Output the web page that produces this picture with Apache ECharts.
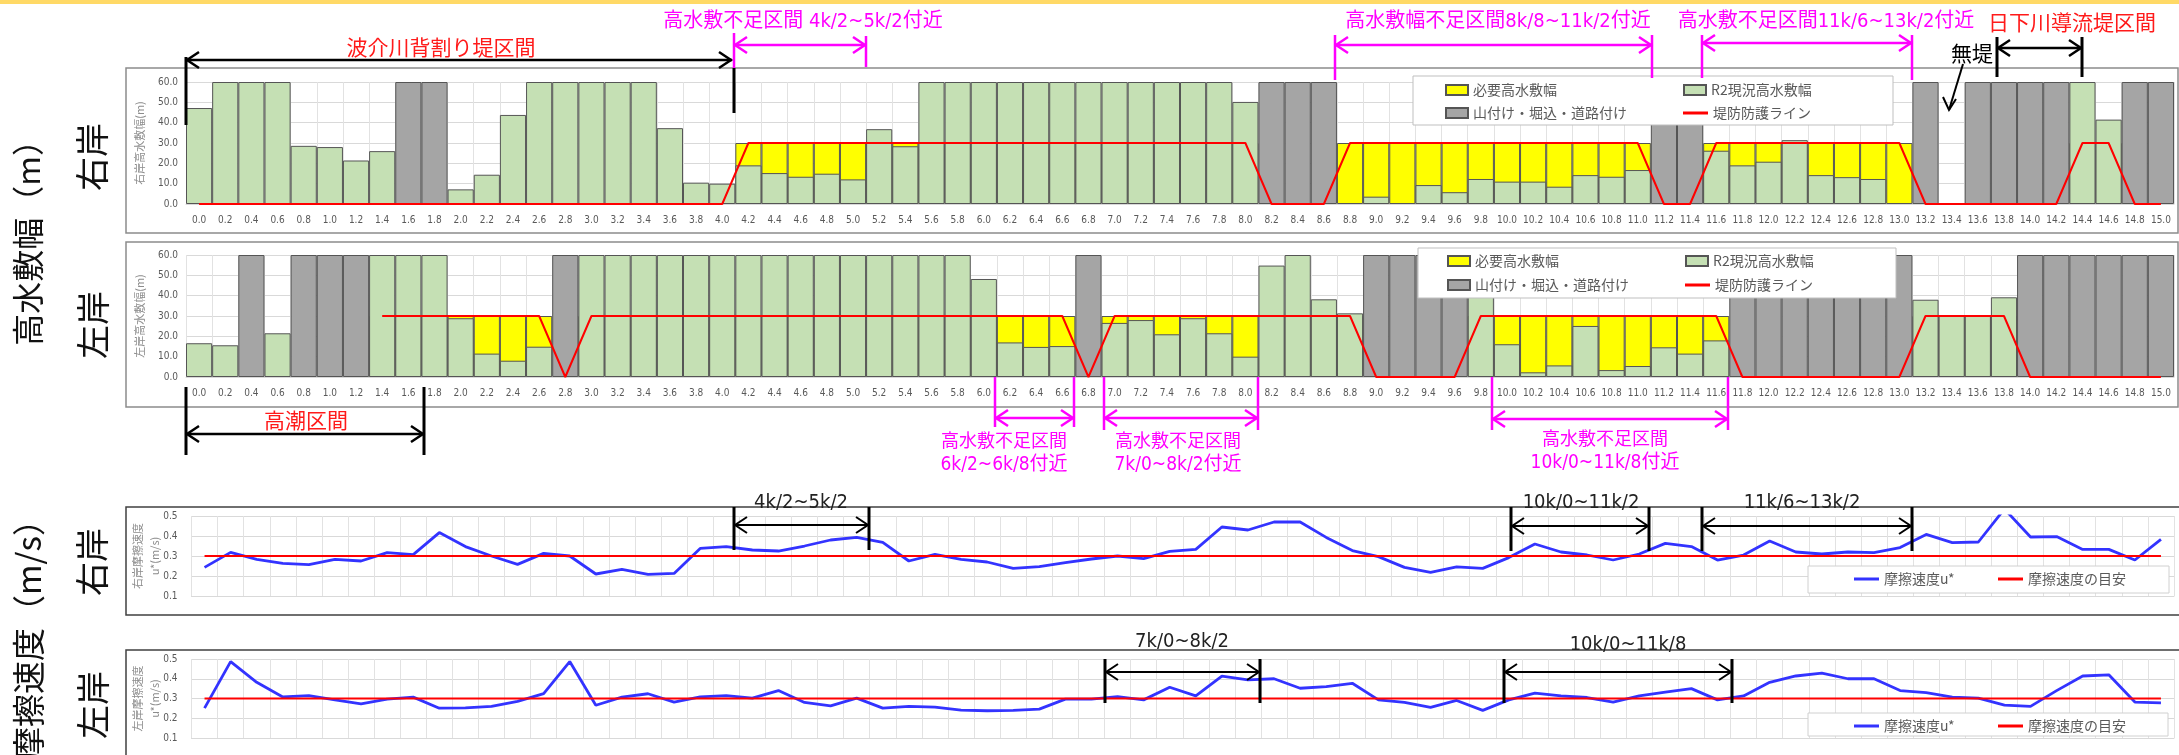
<!DOCTYPE html>
<html>
<head>
<meta charset="utf-8">
<script src="https://cdn.jsdelivr.net/npm/echarts@6/dist/echarts.min.js"></script>
<style>
  html, body { margin: 0; padding: 0; background: #fff; }
  #main { width: 2179px; height: 755px; }
</style>
</head>
<body>
<div id="main"></div>
<script>
// 距離標 (km)
const km = [
  '0.0','0.2','0.4','0.6','0.8','1.0','1.2','1.4','1.6','1.8',
  '2.0','2.2','2.4','2.6','2.8','3.0','3.2','3.4','3.6','3.8',
  '4.0','4.2','4.4','4.6','4.8','5.0','5.2','5.4','5.6','5.8',
  '6.0','6.2','6.4','6.6','6.8','7.0','7.2','7.4','7.6','7.8',
  '8.0','8.2','8.4','8.6','8.8','9.0','9.2','9.4','9.6','9.8',
  '10.0','10.2','10.4','10.6','10.8','11.0','11.2','11.4','11.6','11.8',
  '12.0','12.2','12.4','12.6','12.8','13.0','13.2','13.4','13.6','13.8',
  '14.0','14.2','14.4','14.6','14.8','15.0'
];

// 右岸 高水敷幅 (m)
const rbGreen = [
  47.2,60,60,60,28.6,28.0,21.4,26.0,'-','-',
  7.2,14.4,43.8,60,60,60,60,60,37.3,10.5,
  10.0,19.0,15.2,13.4,14.9,12.1,36.8,28.4,60,60,
  60,60,60,60,60,60,60,60,60,60,
  50.2,'-','-','-','-',3.6,'-',9.3,5.8,12.3,
  11.0,11.0,8.5,14.2,13.4,16.7,'-','-',26.2,19.0,
  20.8,31.4,14.2,13.2,12.3,'-','-','-','-','-',
  '-','-',60,41.5,'-','-'
];
const rbGray = [
  '-','-','-','-','-','-','-','-',60,60,
  '-','-','-','-','-','-','-','-','-','-',
  '-','-','-','-','-','-','-','-','-','-',
  '-','-','-','-','-','-','-','-','-','-',
  '-',60,60,60,'-','-','-','-','-','-',
  '-','-','-','-','-','-',60,60,'-','-',
  '-','-','-','-','-','-',60,'-',60,60,
  60,60,'-','-',60,60
];
const rbNeed = [
  '-','-','-','-','-','-','-','-','-','-',
  '-','-','-','-','-','-','-','-','-','-',
  '-',30,30,30,30,30,30,30,30,30,
  30,30,30,30,30,30,30,30,30,30,
  30,'-','-','-',30,30,30,30,30,30,
  30,30,30,30,30,30,'-','-',30,30,
  30,30,30,30,30,30,'-','-','-','-',
  '-','-',30,30,'-','-'
];
const rbLine = [
  0,0,0,0,0,0,0,0,0,0,
  0,0,0,0,0,0,0,0,0,0,
  0,30,30,30,30,30,30,30,30,30,
  30,30,30,30,30,30,30,30,30,30,
  30,0,0,0,30,30,30,30,30,30,
  30,30,30,30,30,30,0,0,30,30,
  30,30,30,30,30,30,0,0,0,0,
  0,0,30,30,0,0
];

// 左岸 高水敷幅 (m)
const lbGreen = [
  16.6,15.6,'-',21.5,'-','-','-',60,60,60,
  28.9,11.5,8.0,14.9,'-',60,60,60,60,60,
  60,60,60,60,60,60,60,60,60,60,
  48.2,17.0,14.8,15.2,'-',26.6,28.0,21.0,28.9,21.5,
  10.0,54.8,60,38.2,31.3,'-','-','-','-',60,
  16.1,2.3,5.7,25.1,3.4,5.4,14.6,11.5,18.0,'-',
  '-','-','-','-','-','-',38.0,30.0,30.0,39.2,
  '-','-','-','-','-','-'
];
const lbGray = [
  '-','-',60,'-',60,60,60,'-','-','-',
  '-','-','-','-',60,'-','-','-','-','-',
  '-','-','-','-','-','-','-','-','-','-',
  '-','-','-','-',60,'-','-','-','-','-',
  '-','-','-','-','-',60,60,60,60,'-',
  '-','-','-','-','-','-','-','-','-',60,
  60,60,60,60,60,60,'-','-','-','-',
  60,60,60,60,60,60
];
const lbNeed = [
  '-','-','-','-','-','-','-',30,30,30,
  30,30,30,30,'-',30,30,30,30,30,
  30,30,30,30,30,30,30,30,30,30,
  30,30,30,30,'-',30,30,30,30,30,
  30,30,30,30,30,'-','-','-','-',30,
  30,30,30,30,30,30,30,30,30,'-',
  '-','-','-','-','-','-',30,30,30,30,
  '-','-','-','-','-','-'
];
const lbLine = [
  '-','-','-','-','-','-','-',30,30,30,
  30,30,30,30,0,30,30,30,30,30,
  30,30,30,30,30,30,30,30,30,30,
  30,30,30,30,0,30,30,30,30,30,
  30,30,30,30,30,0,0,0,0,30,
  30,30,30,30,30,30,30,30,30,0,
  0,0,0,0,0,0,30,30,30,30,
  0,0,0,0,0,0
];

// 摩擦速度 u* (m/s)
const rbU = [
  0.243,0.318,0.283,0.263,0.257,0.283,0.275,0.317,0.307,0.417,
  0.347,0.300,0.258,0.313,0.300,0.210,0.233,0.208,0.213,0.338,
  0.347,0.330,0.325,0.350,0.380,0.393,0.368,0.275,0.308,0.283,
  0.270,0.238,0.247,0.267,0.285,0.300,0.287,0.323,0.333,0.445,
  0.430,0.470,0.470,0.393,0.327,0.297,0.243,0.218,0.246,0.238,
  0.292,0.360,0.320,0.305,0.280,0.310,0.363,0.347,0.280,0.305,
  0.375,0.320,0.310,0.320,0.317,0.342,0.408,0.367,0.370,0.535,
  0.395,0.397,0.333,0.333,0.280,0.383
];
const lbU = [
  0.251,0.487,0.382,0.308,0.315,0.293,0.273,0.297,0.307,0.251,
  0.253,0.260,0.285,0.325,0.487,0.266,0.307,0.324,0.282,0.308,
  0.315,0.302,0.340,0.280,0.263,0.302,0.251,0.260,0.256,0.241,
  0.238,0.240,0.246,0.297,0.297,0.310,0.293,0.357,0.313,0.413,
  0.394,0.400,0.352,0.360,0.377,0.293,0.280,0.255,0.290,0.240,
  0.293,0.327,0.313,0.305,0.282,0.313,0.332,0.350,0.293,0.313,
  0.382,0.414,0.428,0.400,0.400,0.340,0.330,0.307,0.302,0.266,
  0.260,0.340,0.414,0.420,0.282,0.278
];
const uGuide = 0.3;   // 摩擦速度の目安

const widthTicks = [0, 60, 10];      // min, max, interval
const speedTicks = [0.1, 0.5, 0.1];

const JP = '"Noto Sans CJK JP", "Noto Sans CJK SC", sans-serif';
const NARROW = '"Liberation Sans Narrow", "DejaVu Sans Condensed", "Liberation Sans", sans-serif';
// narrow latin + CJK fallback, for the mixed annotation labels
const MIX = '"Liberation Sans Narrow", "DejaVu Sans Condensed", "Noto Sans CJK JP", sans-serif';
const MAG = '#FF00FF';
const RED = '#FF1A1A';

const chart = echarts.init(document.getElementById('main'));

// ---- axes ----
function catAxis(gi, showLabel) {
  return {
    type: 'category', gridIndex: gi, data: km, boundaryGap: true,
    axisLine: { show: true, lineStyle: { color: '#d9d9d9', width: 1 } },
    axisTick: { show: false },
    axisLabel: { show: showLabel, interval: 0, fontSize: 10, color: '#595959', fontFamily: NARROW, margin: 11 },
    splitLine: { show: true, interval: 0, lineStyle: { color: '#e2e2e2', width: 1 } }
  };
}
function valAxis(gi, t, name, gap, margin) {
  return {
    type: 'value', gridIndex: gi, min: t[0], max: t[1], interval: t[2],
    axisLine: { show: false }, axisTick: { show: false },
    axisLabel: { fontSize: 10, color: '#595959', fontFamily: NARROW, margin: margin,
                 formatter: v => v.toFixed(1) },
    splitLine: { lineStyle: { color: '#d9d9d9', width: 1 } },
    name: name, nameLocation: 'middle', nameRotate: 90, nameGap: gap, nameMoveOverlap: false,
    nameTextStyle: { fontSize: 11, color: '#8c8c8c', fontFamily: JP, lineHeight: 17 }
  };
}

// ---- series ----
const barBorder = { borderColor: '#555', borderWidth: 1 };
function bankBars(ax, need, green, gray, line) {
  return [
    { name: '必要高水敷幅', type: 'bar', xAxisIndex: ax, yAxisIndex: ax, data: need,
      barCategoryGap: '0%', barGap: '-100%', color: '#FFFF00',
      itemStyle: Object.assign({ color: '#FFFF00' }, barBorder) },
    { name: 'R2現況高水敷幅', type: 'bar', xAxisIndex: ax, yAxisIndex: ax, data: green,
      barCategoryGap: '0%', barGap: '-100%', color: '#C5E0B4',
      itemStyle: Object.assign({ color: '#C5E0B4' }, barBorder) },
    { name: '山付け・堀込・道路付け', type: 'bar', xAxisIndex: ax, yAxisIndex: ax, data: gray,
      barCategoryGap: '0%', barGap: '-100%', color: '#A5A5A5',
      itemStyle: Object.assign({ color: '#A5A5A5' }, barBorder) },
    { name: '堤防防護ライン', type: 'line', xAxisIndex: ax, yAxisIndex: ax, data: line,
      symbol: 'none', color: '#FF0000', lineStyle: { color: '#FF0000', width: 2 }, z: 5 }
  ];
}
function speedLines(ax, u) {
  return [
    { name: '摩擦速度u*', type: 'line', xAxisIndex: ax, yAxisIndex: ax, data: u,
      symbol: 'none', color: '#3333FF', lineStyle: { color: '#3333FF', width: 2.8 }, clip: true },
    { name: '摩擦速度の目安', type: 'line', xAxisIndex: ax, yAxisIndex: ax,
      data: km.map(() => uGuide), symbol: 'none', color: '#FF0000',
      lineStyle: { color: '#FF0000', width: 2 } }
  ];
}

// ---- legends (one per item so they sit where the reference has them) ----
function legendItem(name, left, cy, lineIcon) {
  return {
    data: [name], left: left, top: cy - 7, padding: 0, selectedMode: false, z: 12,
    icon: 'rect', itemWidth: lineIcon ? 25 : 22, itemHeight: lineIcon ? 3 : 10, itemGap: 0,
    textStyle: { fontSize: 14, color: '#595959', fontFamily: JP }
  };
}
const legends = [
  legendItem('必要高水敷幅', 1445, 90), legendItem('R2現況高水敷幅', 1683, 90),
  legendItem('山付け・堀込・道路付け', 1445, 113), legendItem('堤防防護ライン', 1683, 113, true),
  legendItem('必要高水敷幅', 1447, 261), legendItem('R2現況高水敷幅', 1685, 261),
  legendItem('山付け・堀込・道路付け', 1447, 285), legendItem('堤防防護ライン', 1685, 285, true),
  legendItem('摩擦速度u*', 1854, 579, true), legendItem('摩擦速度の目安', 1998, 579, true),
  legendItem('摩擦速度u*', 1854, 726, true), legendItem('摩擦速度の目安', 1998, 726, true)
];

// ---- annotation helpers ----
function vline(x, y1, y2, color, w) {
  return { type: 'line', z: 30, shape: { x1: x, y1: y1, x2: x, y2: y2 },
           style: { stroke: color, lineWidth: w || 3 } };
}
function dblArrow(x1, x2, y, color, w) {
  const h = 13, s = 8, lw = w || 2.5;
  return [
    { type: 'line', z: 30, shape: { x1: x1, y1: y, x2: x2, y2: y }, style: { stroke: color, lineWidth: lw } },
    { type: 'polyline', z: 30, shape: { points: [[x1 + h, y - s], [x1 + 1, y], [x1 + h, y + s]] },
      style: { stroke: color, lineWidth: lw, fill: null } },
    { type: 'polyline', z: 30, shape: { points: [[x2 - h, y - s], [x2 - 1, y], [x2 - h, y + s]] },
      style: { stroke: color, lineWidth: lw, fill: null } }
  ];
}
function txt(s, x, y, color, size, font, rot, align) {
  return { type: 'text', z: 31, x: x, y: y, rotation: rot || 0,
    style: { text: s, fill: color, font: size + 'px ' + (font || JP),
             align: align || 'center', verticalAlign: 'middle',
             textAlign: align || 'center', textVerticalAlign: 'middle' } };
}
function box(x, y, w, h, stroke, lw, z) {
  return { type: 'rect', z: z || 1, shape: { x: x, y: y, width: w, height: h },
           style: { fill: z ? '#fff' : null, stroke: stroke, lineWidth: lw } };
}

const graphics = [
  { type: 'rect', z: 1, shape: { x: 0, y: 0, width: 2179, height: 4 }, style: { fill: '#FFD966' } },
  // panel frames
  box(126, 68, 2052, 165, '#8c8c8c', 1.5),
  box(126, 242, 2052, 165, '#8c8c8c', 1.5),
  box(126, 507, 2060, 108, '#404040', 1.5),
  box(126, 650, 2060, 130, '#404040', 1.5),
  // legend boxes
  box(1413, 76, 480, 49, '#bfbfbf', 1, 10),
  box(1418, 248, 478, 50, '#bfbfbf', 1, 10),
  box(1808, 566, 361, 27, '#d0d0d0', 1, 10),
  box(1808, 713, 360, 23, '#d0d0d0', 1, 10),
  // big side titles
  txt('高水敷幅（m）', 28, 124, '#111', 32, JP, Math.PI / 2, 'right'),
  txt('摩擦速度（m/s）', 28, 503, '#111', 33, JP, Math.PI / 2, 'right'),
  txt('右岸', 92, 157, '#111', 34, JP, Math.PI / 2),
  txt('左岸', 93, 325, '#111', 34, JP, Math.PI / 2),
  txt('右岸', 92, 562, '#111', 34, JP, Math.PI / 2),
  txt('左岸', 93, 705, '#111', 34, JP, Math.PI / 2),

  // --- panel 1 (右岸 高水敷幅) annotations ---
  txt('波介川背割り堤区間', 441, 47, RED, 21),
  vline(186, 57, 125, '#000'),
  ...dblArrow(186, 732, 60, '#000'),
  vline(734, 68, 113, '#000'),
  vline(734, 33, 68, MAG, 2.5),
  txt('高水敷不足区間 4k/2~5k/2付近', 803, 22, MAG, 20, MIX),
  ...dblArrow(734, 866, 45, MAG),
  vline(866, 36, 67, MAG, 2.5),
  txt('高水敷幅不足区間8k/8~11k/2付近', 1498, 22, MAG, 20, MIX),
  ...dblArrow(1335, 1652, 45, MAG),
  vline(1335, 35, 80, MAG, 2.5),
  vline(1652, 35, 78, MAG, 2.5),
  txt('高水敷不足区間11k/6~13k/2付近', 1826, 22, MAG, 20, MIX),
  ...dblArrow(1702, 1912, 43, MAG),
  vline(1702, 35, 78, MAG, 2.5),
  vline(1912, 35, 80, MAG, 2.5),
  txt('日下川導流堤区間', 2072, 22, RED, 21),
  ...dblArrow(1997, 2082, 48, '#000'),
  vline(1997, 37, 77, '#000'),
  vline(2082, 37, 77, '#000'),
  txt('無堤', 1972, 53, '#000', 21),
  { type: 'line', z: 30, shape: { x1: 1963, y1: 64, x2: 1949, y2: 110 }, style: { stroke: '#000', lineWidth: 2 } },
  { type: 'polyline', z: 30, shape: { points: [[1943, 97], [1949, 110], [1956, 99]] },
    style: { stroke: '#000', lineWidth: 2, fill: null } },

  // --- panel 2 (左岸 高水敷幅) annotations ---
  vline(186, 387, 455, '#000'),
  vline(424, 387, 455, '#000'),
  ...dblArrow(186, 424, 434, '#000'),
  txt('高潮区間', 306, 420, RED, 21),
  vline(995, 377, 427, MAG, 2.5),
  vline(1074, 377, 427, MAG, 2.5),
  ...dblArrow(995, 1074, 418, MAG),
  txt('高水敷不足区間', 1004, 440, MAG, 18),
  txt('6k/2~6k/8付近', 1004, 465, MAG, 19, MIX),
  vline(1104, 377, 430, MAG, 2.5),
  vline(1258, 377, 430, MAG, 2.5),
  ...dblArrow(1104, 1258, 418, MAG),
  txt('高水敷不足区間', 1178, 440, MAG, 18),
  txt('7k/0~8k/2付近', 1178, 465, MAG, 19, MIX),
  vline(1492, 377, 430, MAG, 2.5),
  vline(1728, 377, 430, MAG, 2.5),
  ...dblArrow(1492, 1728, 419, MAG),
  txt('高水敷不足区間', 1605, 438, MAG, 18),
  txt('10k/0~11k/8付近', 1605, 463, MAG, 19, MIX),

  // --- panel 3 (右岸 摩擦速度) annotations ---
  vline(734, 507, 550, '#000'),
  vline(869, 507, 550, '#000'),
  ...dblArrow(734, 869, 525, '#000', 2),
  txt('4k/2~5k/2', 801, 503, '#222', 20, NARROW),
  vline(1511, 507, 551, '#000'),
  vline(1649, 507, 551, '#000'),
  ...dblArrow(1511, 1649, 526, '#000', 2),
  txt('10k/0~11k/2', 1581, 503, '#222', 20, NARROW),
  vline(1702, 507, 551, '#000'),
  vline(1912, 507, 551, '#000'),
  ...dblArrow(1702, 1912, 526, '#000', 2),
  txt('11k/6~13k/2', 1802, 503, '#222', 20, NARROW),

  // --- panel 4 (左岸 摩擦速度) annotations ---
  vline(1105, 659, 703, '#000'),
  vline(1260, 659, 703, '#000'),
  ...dblArrow(1105, 1260, 672, '#000', 2),
  txt('7k/0~8k/2', 1182, 642, '#222', 20, NARROW),
  vline(1504, 659, 703, '#000'),
  vline(1732, 659, 703, '#000'),
  ...dblArrow(1504, 1732, 672, '#000', 2),
  txt('10k/0~11k/8', 1628, 645, '#222', 20, NARROW)
];

const option = {
  animation: false,
  backgroundColor: '#fff',
  textStyle: { fontFamily: JP },
  grid: [
    { left: 186, right: 5, top: 82, height: 122, outerBoundsMode: 'none' },
    { left: 186, right: 5, top: 255, height: 122, outerBoundsMode: 'none' },
    { left: 191.5, right: 5, top: 516, height: 80, outerBoundsMode: 'none' },
    { left: 191.5, right: 5, top: 659, height: 79, outerBoundsMode: 'none' }
  ],
  xAxis: [catAxis(0, true), catAxis(1, true), catAxis(2, false), catAxis(3, false)],
  yAxis: [
    valAxis(0, widthTicks, '右岸高水敷幅(m)', 38, 8),
    valAxis(1, widthTicks, '左岸高水敷幅(m)', 38, 8),
    valAxis(2, speedTicks, '右岸摩擦速度\nu*(m/s)', 28, 14),
    valAxis(3, speedTicks, '左岸摩擦速度\nu*(m/s)', 28, 14)
  ],
  legend: legends,
  series: [].concat(
    bankBars(0, rbNeed, rbGreen, rbGray, rbLine),
    bankBars(1, lbNeed, lbGreen, lbGray, lbLine),
    speedLines(2, rbU),
    speedLines(3, lbU)
  ),
  graphic: { elements: graphics }
};

chart.setOption(option);
</script>
</body>
</html>
